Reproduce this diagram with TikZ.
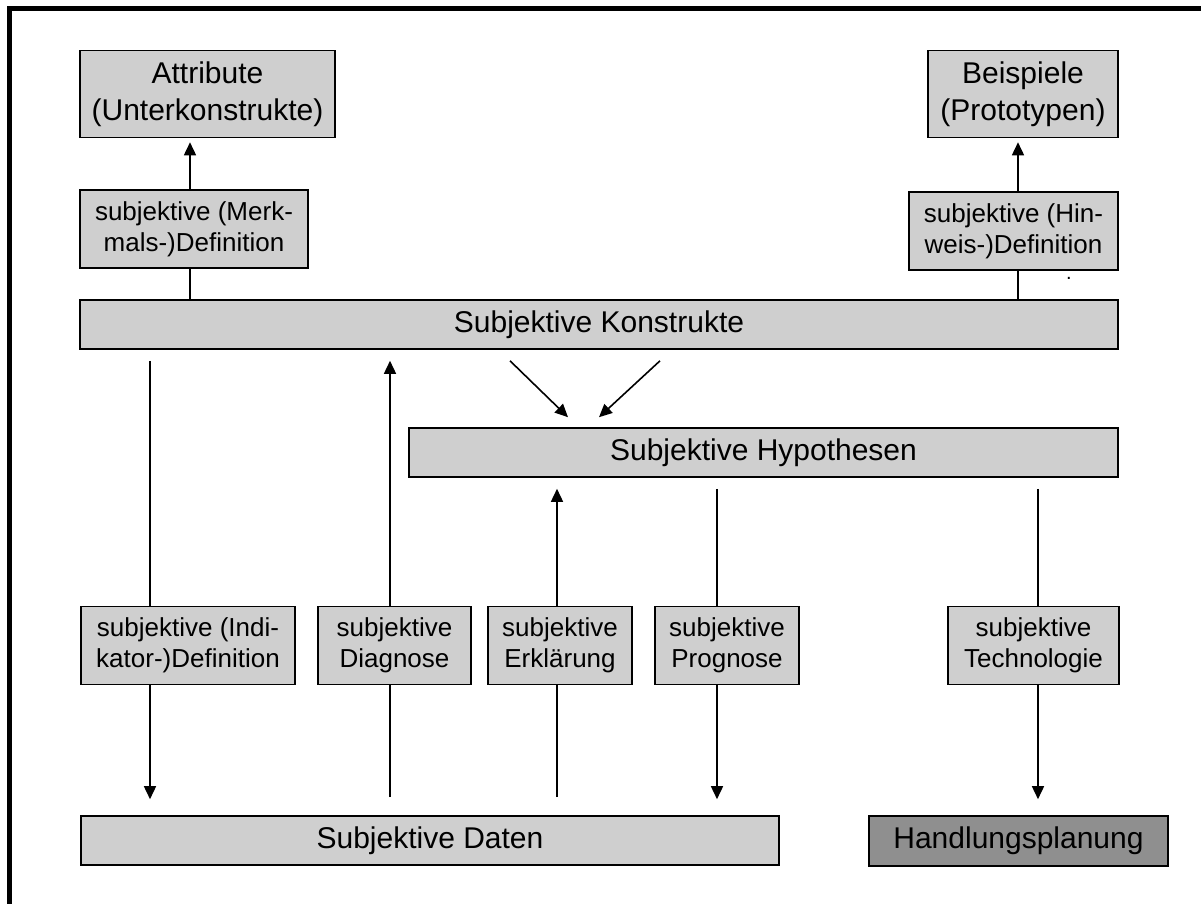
\documentclass[tikz,border=0pt]{standalone}
\usepackage{fontspec}
\setmainfont{Liberation Sans}
\usetikzlibrary{arrows.meta}

\begin{document}
\begin{tikzpicture}[x=0.5pt,y=-0.5pt,
	box/.style={draw,line width=0.8pt,fill=black!19,inner sep=0pt,align=center},
	bigbox/.style={box,font=\fontsize{15}{18.5}\selectfont},
	smallbox/.style={box,font=\fontsize{13}{15.5}\selectfont,minimum height=39pt},
	link/.style={line width=0.8pt},
	arr/.style={link,-{Triangle[length=6.5pt,width=6pt]}}]
		\useasboundingbox (0,0) rectangle (1201,904);
		\draw[line width=2.5pt] (9.5,904) -- (9.5,8.5) -- (1201,8.5);
		\node[bigbox,minimum width=127.5pt,minimum height=43.5pt] (attr) at (207.5,94) {Attribute\\(Unterkonstrukte)};
		\node[bigbox,minimum width=95pt,minimum height=43.5pt] (beisp) at (1023,94) {Beispiele\\(Prototypen)};
		\node[smallbox,minimum width=114pt] (merk) at (194,229) {subjektive (Merk-\\mals-)Definition};
		\node[smallbox,minimum width=104.5pt] (hinw) at (1013.5,231) {subjektive (Hin-\\weis-)Definition};
		\node[font=\fontsize{10}{10}\selectfont,inner sep=0pt] (punkt) at (1069,278) {.};
		\node[bigbox,minimum width=519pt,minimum height=24.5pt] (kon) at (599,324.5) {Subjektive Konstrukte};
		\node[bigbox,minimum width=354.5pt,minimum height=24.5pt] (hyp) at (763.5,452.5) {Subjektive Hypothesen};
		\node[smallbox,minimum width=107pt] (ind) at (188,645.5) {subjektive (Indi-\\kator-)Definition};
		\node[smallbox,minimum width=76.5pt] (diag) at (394.5,645.5) {subjektive\\Diagnose};
		\node[smallbox,minimum width=72pt] (erkl) at (560,645.5) {subjektive\\Erklärung};
		\node[smallbox,minimum width=72pt] (prog) at (727,645.5) {subjektive\\Prognose};
		\node[smallbox,minimum width=85.5pt] (tech) at (1033.5,645.5) {subjektive\\Technologie};
		\node[bigbox,minimum width=349pt,minimum height=24.5pt] (daten) at (430,840.5) {Subjektive Daten};
		\node[bigbox,fill=black!44,minimum width=149.5pt,minimum height=25pt] (handl) at (1018.5,841) {Handlungsplanung};
		\draw[arr,shorten >=2pt] ([xshift=-2pt]merk.north) -- ([xshift=-2pt]merk.north |- attr.south);
		\draw[link] ([xshift=-2pt]merk.south) -- ([xshift=-2pt]merk.south |- kon.north);
		\draw[arr,shorten >=2pt] ([xshift=2.25pt]hinw.north) -- ([xshift=2.25pt]hinw.north |- beisp.south);
		\draw[link] ([xshift=2.25pt]hinw.south) -- ([xshift=2.25pt]hinw.south |- kon.north);
		\draw[arr] ([xshift=-44.5pt,yshift=-5.5pt]kon.south) -- ([xshift=-97.75pt,yshift=5pt]hyp.north);
		\draw[arr] ([xshift=30.5pt,yshift=-5.5pt]kon.south) -- ([xshift=-82.25pt,yshift=5pt]hyp.north);
		\draw[link,shorten <=5.5pt] ([xshift=-19pt]ind.north |- kon.south) -- ([xshift=-19pt]ind.north);
		\draw[arr,shorten >=8pt] ([xshift=-19pt]ind.south) -- ([xshift=-19pt]ind.south |- daten.north);
		\draw[link,shorten <=9pt] ([xshift=-2.25pt]diag.south |- daten.north) -- ([xshift=-2.25pt]diag.south);
		\draw[arr,shorten >=5.5pt] ([xshift=-2.25pt]diag.north) -- ([xshift=-2.25pt]diag.north |- kon.south);
		\draw[link,shorten <=9pt] ([xshift=-1.5pt]erkl.south |- daten.north) -- ([xshift=-1.5pt]erkl.south);
		\draw[arr,shorten >=5.5pt] ([xshift=-1.5pt]erkl.north) -- ([xshift=-1.5pt]erkl.north |- hyp.south);
		\draw[link,shorten <=5.5pt] ([xshift=-5pt]prog.north |- hyp.south) -- ([xshift=-5pt]prog.north);
		\draw[arr,shorten >=8pt] ([xshift=-5pt]prog.south) -- ([xshift=-5pt]prog.south |- daten.north);
		\draw[link,shorten <=5.5pt] ([xshift=2.25pt]tech.north |- hyp.south) -- ([xshift=2.25pt]tech.north);
		\draw[arr,shorten >=8pt] ([xshift=2.25pt]tech.south) -- ([xshift=2.25pt]tech.south |- handl.north);
	\end{tikzpicture}
\end{document}
